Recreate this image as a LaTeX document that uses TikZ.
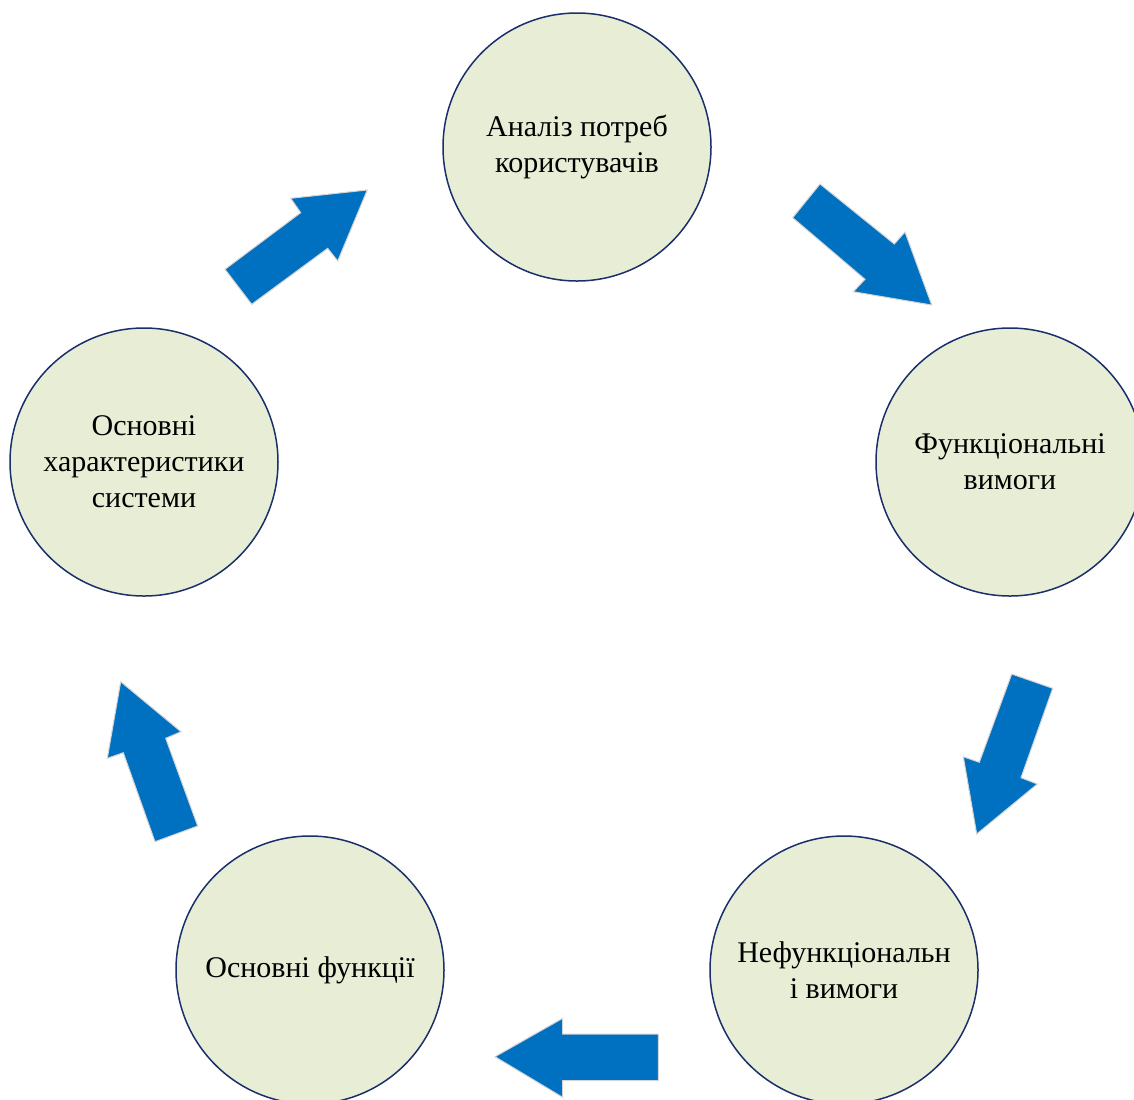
\documentclass[tikz,border=0pt]{standalone}
\usepackage{fontspec}
\setmainfont{Liberation Serif}
\definecolor{stagefill}{HTML}{E8EED5}
\definecolor{stageline}{HTML}{1A2F6B}
\definecolor{flowblue}{HTML}{0070C0}
\definecolor{flowedge}{HTML}{D4D4D4}
\begin{document}
\begin{tikzpicture}[x=0.5pt,y=-0.5pt,
  stage/.style={circle, draw=stageline, line width=0.75pt, fill=stagefill,
    minimum size=134pt, inner sep=0pt, align=center,
    font=\fontsize{15}{18}\selectfont},
  flow/.style={fill=flowblue, draw=flowedge, line width=0.5pt, line join=miter}]
\useasboundingbox (0,0) rectangle (1134,1099);

% stages of the cycle
\node[stage] (needs)  at (577,147)  {Аналіз потреб\\користувачів};
\node[stage] (func)   at (1010,462) {Функціональні\\вимоги};
\node[stage] (nonfunc) at (844,970) {Нефункціональн\\і вимоги};
\node[stage] (core)   at (310,970)  {Основні функції};
\node[stage] (traits) at (144,462)  {Основні\\характеристики\\системи};

% block arrows between stages
\draw[flow] (820,184) -- (894.3,244) -- (905,232) -- (931.7,305)
  -- (853.3,291.7) -- (865,279.3) -- (792.7,217.7) -- cycle;
\draw[flow] (1011.7,674) -- (1052.7,688.3) -- (1021,777.7) -- (1037.3,784)
  -- (976.7,834) -- (963.3,756.7) -- (979.3,762.3) -- cycle;
\draw[flow] (658.3,1034) -- (658.3,1080.7) -- (562.7,1080.7) -- (562.7,1097.3)
  -- (495,1056.7) -- (562.7,1018.3) -- (562.7,1034) -- cycle;
\draw[flow] (155,841.7) -- (197.7,826) -- (165.7,738.3) -- (181,731.7)
  -- (120.7,681.7) -- (107.3,758.3) -- (123.3,752.7) -- cycle;
\draw[flow] (225,269.3) -- (251.7,304.3) -- (327.7,248.3) -- (337.7,261)
  -- (367.3,190) -- (290.7,198.3) -- (300.7,212.7) -- cycle;
\end{tikzpicture}
\end{document}
